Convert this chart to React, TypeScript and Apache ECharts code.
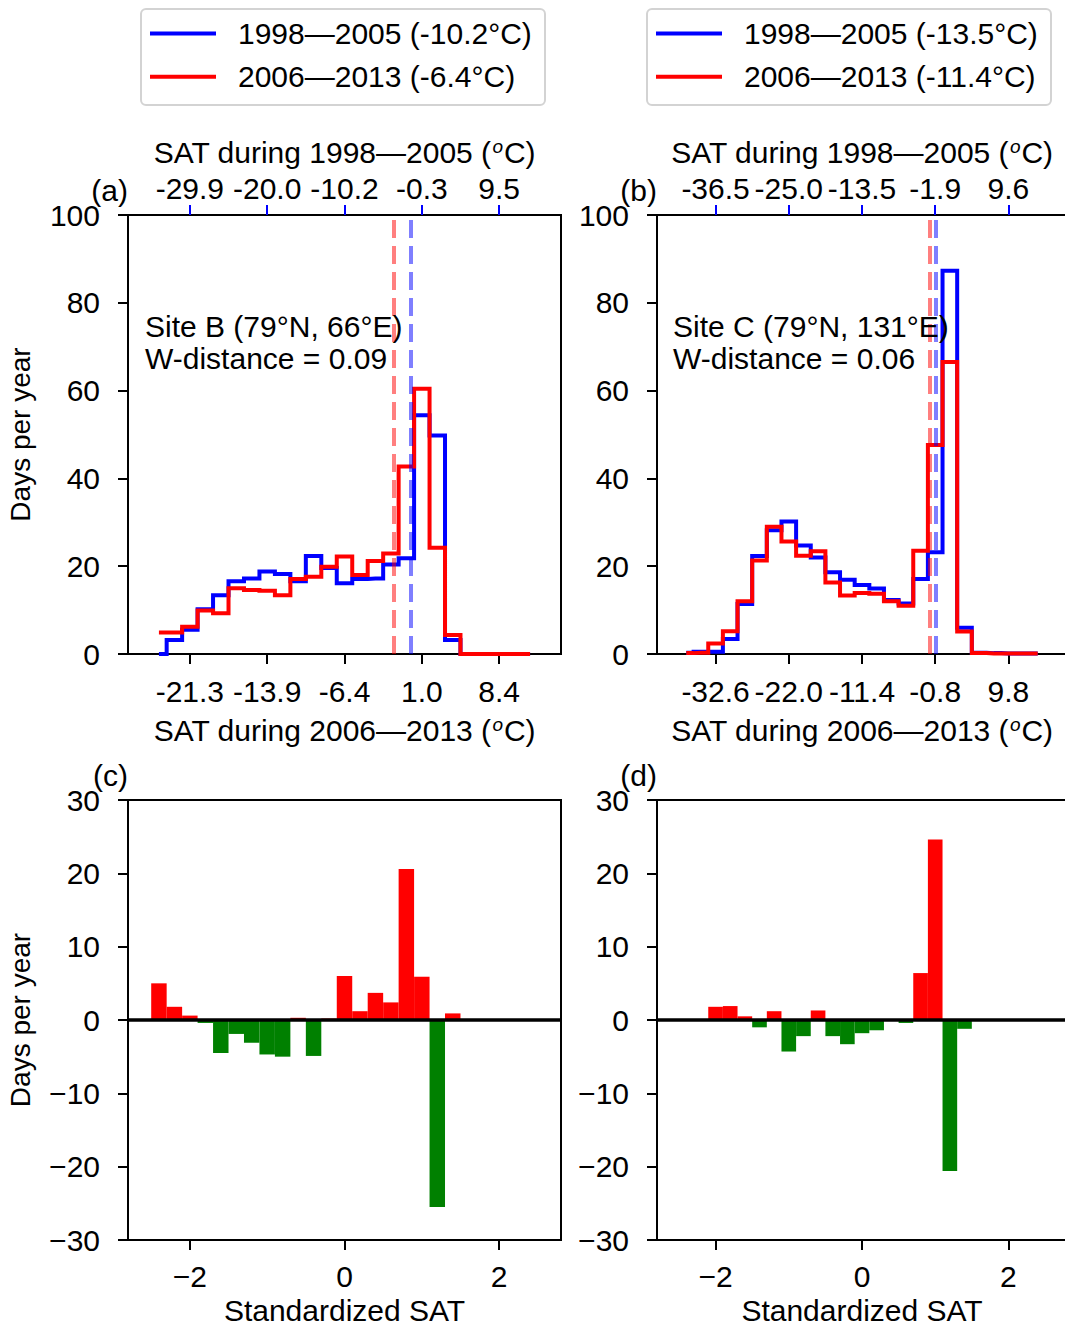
import React, { useEffect, useRef } from 'react';
import * as echarts from 'echarts';

// ---------- data (standardized SAT bin centres, days per year) ----------
const centers = [-2.4, -2.2, -2.0, -1.8, -1.6, -1.4, -1.2, -1.0, -0.8, -0.6, -0.4, -0.2, 0.0, 0.2, 0.4, 0.6, 0.8, 1.0, 1.2, 1.4, 1.6, 1.8, 2.0, 2.2, 2.4];

// panel (a) Site B
const blueA = [0, 3.2, 5.5, 10.2, 13.4, 16.6, 17.2, 18.8, 18.2, 16.6, 22.3, 19.6, 16.1, 17.1, 17.2, 20.4, 21.8, 54.4, 49.8, 3.2, 0, 0, 0, 0, 0];
const redA = [4.9, 4.9, 6.2, 9.9, 9.3, 15.0, 14.6, 14.4, 13.4, 17.1, 17.6, 19.9, 22.2, 18.0, 21.2, 22.9, 42.7, 60.4, 24.2, 4.3, 0, 0, 0, 0, 0];
// panel (b) Site C
const blueB = [0.3, 0.5, 0.5, 3.4, 11.4, 22.3, 28.2, 30.2, 24.7, 22.0, 18.6, 16.9, 15.7, 14.9, 12.3, 11.5, 17.1, 23.2, 87.3, 6.0, 0.3, 0.2, 0.1, 0.1, 0.1];
const redB = [0.2, 0.3, 2.4, 5.2, 12.0, 21.3, 29.0, 25.6, 22.4, 23.4, 16.3, 13.3, 13.9, 13.7, 12.0, 11.0, 23.5, 47.6, 66.5, 5.1, 0.2, 0.1, 0.1, 0.1, 0.1];
// panel (c) / (d) differences
const diffC = [5.0, 1.8, 0.6, -0.4, -4.5, -1.9, -3.1, -4.7, -5.0, 0.3, -4.9, 0.2, 6.0, 1.2, 3.7, 2.4, 20.6, 5.9, -25.5, 0.9, 0, 0, 0, 0, 0];
const diffD = [0, -0.1, 1.8, 1.9, 0.5, -1.0, 1.2, -4.3, -2.2, 1.3, -2.2, -3.3, -1.8, -1.4, -0.1, -0.4, 6.4, 24.6, -20.6, -1.2, 0, 0, 0, 0, 0];

// tick labels
const stdTicks = [-2, -1, 0, 1, 2];
const diffTicks = [-2, 0, 2];
const topLabelsA = ['-29.9', '-20.0', '-10.2', '-0.3', '9.5'];
const bottomLabelsA = ['-21.3', '-13.9', '-6.4', '1.0', '8.4'];
const topLabelsB = ['-36.5', '-25.0', '-13.5', '-1.9', '9.6'];
const bottomLabelsB = ['-32.6', '-22.0', '-11.4', '-0.8', '9.8'];

// dashed reference lines (standardized position)
const refLineA = { early: 0.86, late: 0.635 };
const refLineB = { early: 1.012, late: 0.918 };

const legendA = ['1998\u20142005 (-10.2\u00b0C)', '2006\u20142013 (-6.4\u00b0C)'];
const legendB = ['1998\u20142005 (-13.5\u00b0C)', '2006\u20142013 (-11.4\u00b0C)'];
const siteA = ['Site B (79\u00b0N, 66\u00b0E)', 'W-distance = 0.09'];
const siteB = ['Site C (79\u00b0N, 131\u00b0E)', 'W-distance = 0.06'];
const panelLabels = ['(a)', '(b)', '(c)', '(d)'];

// ---------- layout ----------
const FONT = "'Liberation Sans', Arial, Helvetica, sans-serif";
const FS = 30;
const FSV = 28;
const L1 = 128, L2 = 657, GW_A = 433, GW_B = 410;
const T1 = 215, H1 = 439, T2 = 800, H2 = 440;
const XMIN = -2.8, XMAX = 2.8;
const BLUE = '#0000ff', RED = '#ff0000', GREEN = '#008000';

const minusFmt = (v: number) => (v < 0 ? '\u2212' + String(Math.abs(v)) : String(v));

const supRich = {
  sup: { fontSize: 19, fontStyle: 'italic', verticalAlign: 'top', fontFamily: FONT, color: '#000', padding: [0, 1, 0, 1] },
};

function xAxisDef(gridIndex: number, position: 'top' | 'bottom', ticks: number[], fmt: (v: number) => string, tickColor: string, name: string, nameGap: number, margin: number) {
  return {
    gridIndex,
    type: 'value',
    min: XMIN,
    max: XMAX,
    position,
    axisLine: { show: false, onZero: false },
    splitLine: { show: false },
    axisTick: { show: true, inside: false, customValues: ticks, length: 10, lineStyle: { color: tickColor, width: 2 } },
    axisLabel: { show: true, customValues: ticks, formatter: fmt, margin, fontSize: FS, color: '#000', fontFamily: FONT },
    name,
    nameLocation: 'middle',
    nameGap,
    nameTextStyle: { fontSize: FS, color: '#000', fontFamily: FONT, rich: supRich },
  };
}

function yAxisDef(gridIndex: number, min: number, max: number, interval: number, name: string) {
  return {
    gridIndex,
    type: 'value',
    min,
    max,
    interval,
    position: 'left',
    axisLine: { show: false, onZero: false },
    splitLine: { show: false },
    axisTick: { show: true, inside: false, length: 10, lineStyle: { color: '#000', width: 2 } },
    axisLabel: { margin: 28, fontSize: FS, color: '#000', fontFamily: FONT, formatter: minusFmt },
    name,
    nameLocation: 'middle',
    nameGap: 94,
    nameTextStyle: { fontSize: FSV, color: '#000', fontFamily: FONT },
  };
}

function stepSeries(name: string, values: number[], color: string, xi: number, yi: number, refX: number, refColor: string) {
  return {
    name,
    type: 'line',
    xAxisIndex: xi,
    yAxisIndex: yi,
    step: 'middle',
    symbol: 'none',
    data: centers.map((c, i) => [c, values[i]]),
    lineStyle: { color, width: 4, join: 'miter', cap: 'butt' },
    itemStyle: { color },
    silent: true,
    markLine: {
      silent: true,
      symbol: ['none', 'none'],
      label: { show: false },
      lineStyle: { color: refColor, width: 4, type: [18, 8] },
      emphasis: { disabled: true },
      data: [{ xAxis: refX }],
    },
  };
}

function barSeries(values: number[], xi: number, yi: number, gw: number) {
  return {
    type: 'bar',
    xAxisIndex: xi,
    yAxisIndex: yi,
    barWidth: (0.2 * gw) / (XMAX - XMIN),
    silent: true,
    data: centers.map((c, i) => [c, values[i]]),
    itemStyle: { color: (p: any) => (p.value[1] >= 0 ? RED : GREEN) },
    markLine: {
      silent: true,
      symbol: ['none', 'none'],
      label: { show: false },
      lineStyle: { color: '#000', width: 3.5, type: 'solid' },
      emphasis: { disabled: true },
      data: [{ yAxis: 0 }],
    },
  };
}

function legendGraphic(left: number, labels: string[]) {
  const top = 9;
  return [
    { type: 'rect', shape: { x: left, y: top, width: 404, height: 96, r: 5 }, style: { fill: '#fff', stroke: '#d3d3d3', lineWidth: 2 }, z: 10 },
    { type: 'line', shape: { x1: left + 9, y1: 33.5, x2: left + 75, y2: 33.5 }, style: { stroke: BLUE, lineWidth: 4 }, z: 11 },
    { type: 'line', shape: { x1: left + 9, y1: 76.8, x2: left + 75, y2: 76.8 }, style: { stroke: RED, lineWidth: 4 }, z: 11 },
    { type: 'text', x: left + 97, y: 33.5, style: { text: labels[0], fontSize: FS, fontFamily: FONT, fill: '#000', align: 'left', verticalAlign: 'middle' }, z: 11 },
    { type: 'text', x: left + 97, y: 76.8, style: { text: labels[1], fontSize: FS, fontFamily: FONT, fill: '#000', align: 'left', verticalAlign: 'middle' }, z: 11 },
  ];
}

function textEl(x: number, y: number, text: string, align: string) {
  return { type: 'text', x, y, style: { text, fontSize: FS, fontFamily: FONT, fill: '#000', align, verticalAlign: 'middle' }, z: 12 };
}

function gridDef(left: number, top: number, width: number, height: number) {
  return { left, top, width, height, show: true, borderColor: '#000', borderWidth: 2, backgroundColor: 'transparent', containLabel: false, outerBoundsMode: 'none' };
}

export default function App() {
  const ref = useRef<HTMLDivElement>(null);
  useEffect(() => {
    if (!ref.current) return;
    const chart = echarts.init(ref.current, null, { renderer: 'svg' });
    const lblA = (v: number) => bottomLabelsA[stdTicks.indexOf(Math.round(v))] ?? '';
    const lblAT = (v: number) => topLabelsA[stdTicks.indexOf(Math.round(v))] ?? '';
    const lblB = (v: number) => bottomLabelsB[stdTicks.indexOf(Math.round(v))] ?? '';
    const lblBT = (v: number) => topLabelsB[stdTicks.indexOf(Math.round(v))] ?? '';
    const option: any = {
      animation: false,
      backgroundColor: '#fff',
      textStyle: { fontFamily: FONT },
      grid: [gridDef(L1, T1, GW_A, H1), gridDef(L2, T1, GW_B, H1), gridDef(L1, T2, GW_A, H2), gridDef(L2, T2, GW_B, H2)],
      xAxis: [
        xAxisDef(0, 'bottom', stdTicks, lblA, '#000', 'SAT during 2006\u20142013 ({sup|o}C)', 61, 22),
        xAxisDef(0, 'top', stdTicks, lblAT, BLUE, 'SAT during 1998\u20142005 ({sup|o}C)', 48, 12),
        xAxisDef(1, 'bottom', stdTicks, lblB, '#000', 'SAT during 2006\u20142013 ({sup|o}C)', 61, 22),
        xAxisDef(1, 'top', stdTicks, lblBT, BLUE, 'SAT during 1998\u20142005 ({sup|o}C)', 48, 12),
        xAxisDef(2, 'bottom', diffTicks, minusFmt, '#000', 'Standardized SAT', 55, 21),
        xAxisDef(3, 'bottom', diffTicks, minusFmt, '#000', 'Standardized SAT', 55, 21),
      ],
      yAxis: [
        yAxisDef(0, 0, 100, 20, 'Days per year'),
        yAxisDef(1, 0, 100, 20, ''),
        yAxisDef(2, -30, 30, 10, 'Days per year'),
        yAxisDef(3, -30, 30, 10, ''),
      ],
      series: [
        stepSeries(legendA[0], blueA, BLUE, 0, 0, refLineA.early, 'rgba(0,0,255,0.5)'),
        stepSeries(legendA[1], redA, RED, 0, 0, refLineA.late, 'rgba(255,0,0,0.5)'),
        stepSeries(legendB[0], blueB, BLUE, 2, 1, refLineB.early, 'rgba(0,0,255,0.5)'),
        stepSeries(legendB[1], redB, RED, 2, 1, refLineB.late, 'rgba(255,0,0,0.5)'),
        barSeries(diffC, 4, 2, GW_A),
        barSeries(diffD, 5, 3, GW_B),
      ],
      graphic: [
        ...legendGraphic(141, legendA),
        ...legendGraphic(647, legendB),
        textEl(145, 326.5, siteA[0], 'left'),
        textEl(145, 358.5, siteA[1], 'left'),
        textEl(673, 326.5, siteB[0], 'left'),
        textEl(673, 358.5, siteB[1], 'left'),
        textEl(L1, T1 - 25, panelLabels[0], 'right'),
        textEl(L2, T1 - 25, panelLabels[1], 'right'),
        textEl(L1, T2 - 25, panelLabels[2], 'right'),
        textEl(L2, T2 - 25, panelLabels[3], 'right'),
      ],
    };
    chart.setOption(option);
    return () => chart.dispose();
  }, []);
  return <div ref={ref} style={{ position: 'absolute', left: 0, top: 0, width: 1065, height: 1333 }} />;
}
